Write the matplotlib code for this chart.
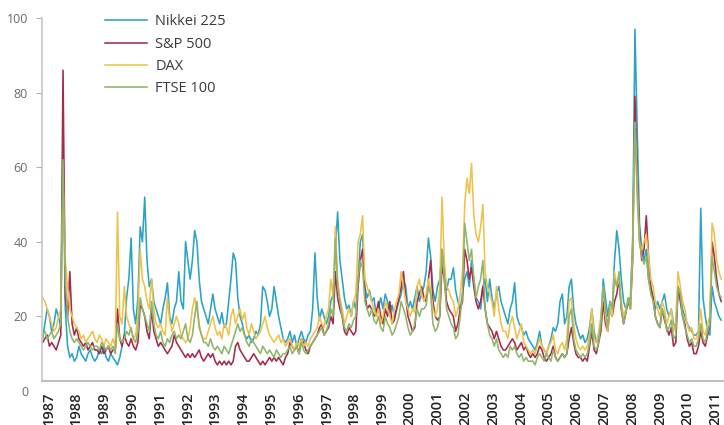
import numpy as np
import matplotlib
matplotlib.use("Agg")
from matplotlib import pyplot as plt
import matplotlib.transforms as mtransforms

plt.rcParams['font.family'] = ['Open Sans', 'DejaVu Sans']

# monthly volatility, Jan 1987 .. Dec 2011 (one row per year)
nikkei = [
    14, 18, 22, 20, 16, 18, 22, 20, 17, 66, 22, 12,
    9, 10, 8, 9, 12, 10, 9, 8, 10, 11, 9, 8,
    9, 11, 10, 12, 9, 8, 10, 9, 8, 7, 9, 12,
    15, 25, 30, 41, 22, 18, 25, 44, 40, 52, 35, 28,
    30, 24, 22, 20, 18, 22, 25, 29, 20, 18, 22, 24,
    32, 24, 22, 40, 35, 30, 35, 43, 40, 30, 24, 22,
    20, 18, 22, 26, 22, 20, 18, 21, 17, 18, 24, 30,
    37, 35, 25, 20, 18, 15, 14, 15, 13, 14, 16, 15,
    18, 28, 27, 24, 20, 22, 28, 24, 20, 17, 14, 13,
    14, 16, 13, 15, 12, 14, 16, 14, 13, 15, 16, 22,
    37, 25, 19, 22, 20, 18, 20, 24, 26, 38, 48, 35,
    30, 25, 22, 23, 20, 24, 22, 30, 40, 42, 28, 25,
    27, 24, 25, 20, 22, 25, 22, 26, 24, 21, 23, 20,
    22, 24, 26, 30, 28, 22, 24, 22, 25, 28, 24, 26,
    28, 32, 41, 36, 27, 24, 28, 30, 38, 33, 27, 30,
    30, 33, 27, 24, 22, 26, 30, 32, 28, 35, 30, 25,
    24, 22, 28, 30, 24, 30, 25, 22, 26, 28, 24, 22,
    20, 18, 22, 24, 29, 20, 18, 17, 15, 16, 14, 13,
    12, 11, 13, 16, 12, 11, 10, 12, 14, 17, 16, 18,
    24, 26, 18, 20, 28, 30, 22, 18, 16, 14, 15, 13,
    14, 17, 22, 16, 13, 14, 18, 30, 25, 20, 24, 22,
    35, 43, 38, 30, 24, 22, 24, 25, 40, 97, 70, 45,
    38, 35, 38, 30, 27, 25, 22, 24, 22, 24, 26, 22,
    20, 22, 18, 17, 28, 26, 22, 20, 18, 17, 16, 15,
    15, 16, 49, 25, 20, 16, 15, 28, 24, 22, 20, 19,
]
sp500 = [
    13, 14, 15, 12, 13, 12, 11, 13, 15, 86, 25, 20,
    32, 18, 15, 17, 14, 13, 12, 13, 11, 12, 13, 11,
    11, 10, 12, 10, 11, 12, 10, 11, 11, 22, 14, 12,
    15, 13, 12, 14, 12, 11, 13, 23, 22, 20, 16, 14,
    22, 16, 14, 12, 13, 12, 11, 10, 11, 12, 15, 13,
    12, 11, 10, 9, 10, 9, 10, 9, 10, 11, 9, 8,
    9, 10, 9, 10, 8, 7, 8, 7, 8, 7, 8, 7,
    8, 12, 13, 11, 10, 9, 8, 8, 9, 10, 9, 8,
    7, 8, 7, 8, 9, 8, 9, 8, 9, 8, 7, 9,
    10, 13, 12, 11, 12, 10, 14, 13, 11, 10, 12, 13,
    14, 15, 17, 18, 15, 16, 17, 20, 18, 32, 25, 22,
    20, 16, 15, 17, 16, 15, 16, 28, 35, 38, 26, 22,
    23, 22, 20, 21, 24, 20, 18, 22, 20, 24, 18, 19,
    22, 25, 28, 32, 25, 20, 18, 16, 17, 24, 26, 28,
    25, 24, 30, 35, 24, 20, 19, 20, 34, 30, 24, 22,
    21, 20, 16, 18, 22, 24, 38, 35, 30, 33, 28, 24,
    22, 24, 28, 22, 18, 17, 16, 14, 16, 14, 12, 11,
    11, 12, 13, 14, 13, 11, 12, 13, 11, 12, 10, 9,
    10, 9, 10, 12, 11, 9, 8, 9, 10, 12, 9, 8,
    9, 10, 9, 10, 14, 17, 13, 10, 9, 9, 8, 9,
    8, 12, 16, 11, 10, 13, 16, 24, 18, 16, 22, 20,
    24, 26, 30, 22, 18, 21, 24, 22, 35, 79, 58, 42,
    35, 38, 47, 36, 28, 25, 20, 18, 17, 22, 19, 17,
    15, 17, 12, 13, 28, 24, 20, 18, 14, 12, 13, 10,
    10, 12, 16, 13, 12, 15, 18, 40, 36, 30, 26, 24,
]
dax = [
    25, 24, 22, 20, 18, 16, 17, 20, 22, 55, 35, 28,
    22, 20, 18, 17, 16, 14, 15, 13, 14, 15, 16, 14,
    13, 15, 14, 12, 14, 13, 12, 14, 12, 48, 20, 18,
    28, 20, 18, 16, 14, 15, 20, 38, 30, 28, 24, 22,
    30, 22, 18, 17, 18, 16, 15, 25, 19, 16, 18, 20,
    18, 15, 14, 13, 14, 17, 22, 25, 22, 18, 15, 14,
    14, 16, 18, 20, 17, 15, 16, 14, 18, 17, 15, 20,
    22, 18, 20, 22, 19, 21, 17, 15, 18, 16, 14, 15,
    16, 18, 20, 17, 15, 14, 13, 14, 15, 13, 14, 12,
    13, 14, 12, 11, 13, 12, 14, 12, 13, 12, 14, 15,
    16, 17, 20, 18, 17, 20, 22, 30, 25, 44, 30, 25,
    22, 18, 20, 22, 20, 24, 26, 40, 42, 47, 30, 28,
    26, 24, 22, 20, 22, 18, 20, 24, 22, 20, 18, 22,
    24, 26, 32, 28, 24, 22, 20, 22, 21, 28, 30, 26,
    24, 26, 30, 27, 22, 20, 22, 28, 52, 35, 28, 27,
    25, 24, 20, 22, 26, 32, 50, 57, 53, 61, 47, 42,
    40, 44, 50, 32, 28, 26, 24, 20, 28, 22, 18, 16,
    16, 14, 18, 20, 17, 14, 16, 18, 13, 12, 11, 10,
    11, 10, 12, 14, 12, 11, 10, 12, 13, 15, 11, 10,
    12, 13, 11, 14, 24, 25, 18, 14, 12, 11, 12, 11,
    12, 15, 22, 14, 13, 16, 20, 28, 20, 16, 22, 20,
    32, 28, 30, 24, 20, 22, 25, 22, 38, 72, 55, 40,
    38, 40, 42, 36, 30, 28, 24, 22, 20, 24, 22, 18,
    20, 22, 16, 18, 32, 28, 24, 22, 18, 16, 17, 14,
    14, 16, 22, 16, 15, 18, 20, 45, 42, 35, 32, 30,
]
ftse = [
    15, 16, 14, 15, 16, 14, 15, 16, 18, 62, 30, 20,
    16, 14, 13, 14, 13, 12, 11, 12, 13, 12, 11, 12,
    12, 11, 13, 12, 11, 12, 11, 12, 10, 18, 14, 13,
    14, 16, 15, 17, 14, 13, 16, 25, 22, 20, 18, 16,
    24, 18, 15, 14, 16, 13, 12, 14, 13, 15, 16, 14,
    15, 14, 16, 18, 14, 13, 15, 20, 24, 17, 15, 13,
    13, 12, 14, 12, 11, 12, 11, 10, 12, 11, 10, 12,
    14, 16, 18, 16, 17, 15, 13, 12, 14, 13, 12, 11,
    10, 12, 11, 10, 11, 10, 9, 11, 10, 9, 10, 10,
    11, 12, 10, 11, 12, 10, 13, 11, 10, 11, 12, 13,
    14, 15, 16, 17, 15, 16, 18, 22, 20, 41, 28, 24,
    20, 17, 16, 18, 17, 19, 20, 30, 35, 33, 24, 22,
    20, 22, 19, 18, 20, 17, 16, 20, 18, 17, 15, 16,
    18, 20, 24, 22, 20, 17, 15, 16, 18, 22, 20, 22,
    22, 23, 28, 26, 18, 16, 17, 20, 38, 30, 22, 20,
    18, 17, 14, 15, 20, 26, 45, 40, 35, 38, 30, 25,
    28, 30, 35, 22, 18, 15, 14, 12, 14, 11, 10, 9,
    10, 9, 12, 11, 12, 10, 9, 10, 8, 9, 8, 8,
    8, 7, 9, 10, 9, 8, 10, 9, 8, 11, 9, 8,
    9, 10, 9, 10, 20, 22, 14, 11, 10, 9, 10, 9,
    10, 13, 18, 12, 11, 13, 18, 28, 22, 17, 24, 22,
    30, 28, 32, 22, 18, 21, 25, 22, 40, 72, 52, 40,
    36, 34, 36, 30, 26, 24, 20, 18, 17, 22, 20, 16,
    17, 19, 14, 15, 28, 26, 20, 17, 15, 13, 14, 12,
    12, 14, 18, 14, 13, 16, 18, 36, 32, 28, 26, 25,
]
years = list(range(1987, 2012))
series = [("Nikkei 225", nikkei, "#2ba3c6"),
          ("S&P 500", sp500, "#a52a4c"),
          ("DAX", dax, "#eec24a"),
          ("FTSE 100", ftse, "#8fb46a")]

t = 1987 + np.arange(len(nikkei)) / 12.0

fig = plt.figure(figsize=(7.24, 4.25), dpi=100)
ax = fig.add_axes([42 / 724, 34 / 425, 682 / 724, 373 / 425])

for name, vals, col in series:
    ax.plot(t, vals, color=col, lw=1.15, label=name)

ax.set_xlim(1987 - 0.022, 2012.02)
ax.set_ylim(0, 100)

for s in ["top", "right"]:
    ax.spines[s].set_visible(False)
ax.spines["left"].set_color("#c8c8c8")
ax.spines["left"].set_linewidth(1.2)
ax.spines["left"].set_bounds(2.7, 100)
ax.spines["bottom"].set_position(("data", 2.7))
ax.spines["bottom"].set_color("#c0c0c0")
ax.spines["bottom"].set_linewidth(1.5)

ax.set_yticks(range(0, 101, 20))
ax.tick_params(axis="y", length=4, color="#b0b0b0", labelcolor="#6a6a6a",
               labelsize=9, pad=6)
ax.yaxis.get_major_ticks()[0].tick1line.set_visible(False)
ax.set_xticks([])

# year labels (rotated, under the axis)
trans = mtransforms.blended_transform_factory(ax.transData, ax.transAxes)
for k, yr in enumerate(years):
    px = 48.5 + 27.8 * k
    pos = 1987 + (px - 42.6) / 27.24
    ax.text(pos, -0.002, str(yr), rotation=90, ha="center", va="top",
            fontsize=10.5, color="#222222", fontweight="semibold",
            transform=trans, clip_on=False)

leg = ax.legend(loc="upper left", bbox_to_anchor=(0.073, 1.045), frameon=False,
                fontsize=10.5, handlelength=2.9, handletextpad=0.55,
                labelspacing=0.5, labelcolor="#3a3a3a")

fig.savefig("out.png", dpi=100)
